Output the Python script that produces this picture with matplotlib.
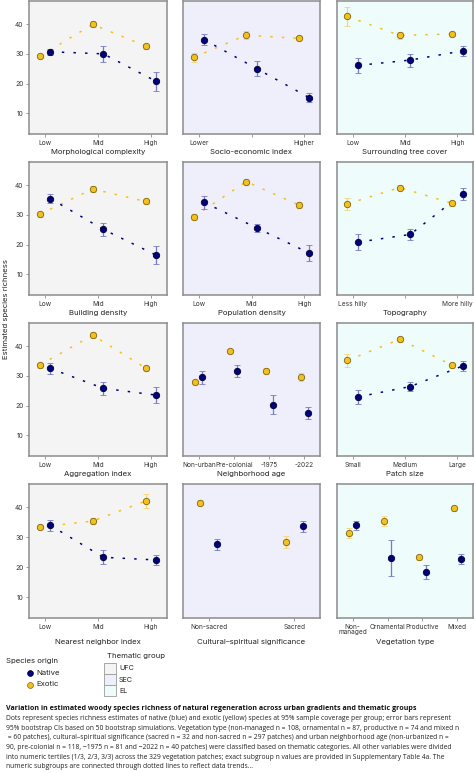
import numpy as np
import matplotlib.pyplot as plt
from matplotlib.patches import Rectangle

plt.rcParams['font.family'] = ['Inter', 'DejaVu Sans']

# ---- data ----
morph_cats = ["Low", "Mid", "High"]
morph_nat = [30.7, 30.0, 20.7]; morph_nat_ci = [1.0, 2.7, 3.2]
morph_exo = [29.2, 39.9, 32.6]; morph_exo_ci = [0.7, 1.0, 0.8]

socio_cats = ["Lower", "", "Higher"]
socio_nat = [34.8, 25.0, 15.2]; socio_nat_ci = [1.9, 2.6, 1.5]
socio_exo = [28.8, 36.3, 35.2]; socio_exo_ci = [1.4, 1.3, 0.7]

tree_cats = ["Low", "Mid", "High"]
tree_nat = [26.1, 27.9, 31.0]; tree_nat_ci = [2.5, 2.2, 1.7]
tree_exo = [42.6, 36.2, 36.7]; tree_exo_ci = [3.2, 1.2, 0.8]

build_cats = ["Low", "Mid", "High"]
build_nat = [35.5, 25.1, 16.4]; build_nat_ci = [1.6, 2.2, 3.1]
build_exo = [30.2, 38.7, 34.5]; build_exo_ci = [0.8, 0.9, 0.9]

pop_cats = ["Low", "Mid", "High"]
pop_nat = [34.2, 25.6, 17.1]; pop_nat_ci = [2.3, 1.3, 2.7]
pop_exo = [29.3, 41.2, 33.3]; pop_exo_ci = [1.0, 1.0, 1.0]

topo_cats = ["Less hilly", "", "More hilly"]
topo_nat = [20.8, 23.4, 37.1]; topo_nat_ci = [2.6, 1.8, 2.1]
topo_exo = [33.7, 39.2, 33.9]; topo_exo_ci = [1.9, 0.8, 0.8]

aggr_cats = ["Low", "Mid", "High"]
aggr_nat = [32.5, 25.8, 23.5]; aggr_nat_ci = [1.8, 2.2, 2.6]
aggr_exo = [33.6, 43.7, 32.6]; aggr_exo_ci = [0.8, 1.1, 0.8]

age_cats = ["Non-urban", "Pre-colonial", "-1975", "-2022"]
age_nat = [29.5, 31.6, 20.3, 17.5]; age_nat_ci = [2.1, 1.9, 3.2, 1.9]
age_exo = [27.9, 38.4, 31.6, 29.6]; age_exo_ci = [0.8, 0.7, 1.0, 1.2]

patch_cats = ["Small", "Medium", "Large"]
patch_nat = [22.9, 26.4, 33.3]; patch_nat_ci = [2.4, 1.6, 1.6]
patch_exo = [35.2, 42.3, 33.6]; patch_exo_ci = [2.2, 0.8, 0.8]

nn_cats = ["Low", "Mid", "High"]
nn_nat = [34.0, 23.3, 22.4]; nn_nat_ci = [1.8, 2.4, 1.8]
nn_exo = [33.4, 35.4, 42.1]; nn_exo_ci = [0.7, 0.9, 2.2]

cult_cats = ["Non-sacred", "Sacred"]
cult_nat = [27.6, 33.6]; cult_nat_ci = [1.7, 1.9]
cult_exo = [41.6, 28.4]; cult_exo_ci = [0.7, 2.1]

veg_cats = ["Non-\nmanaged", "Ornamental", "Productive", "Mixed"]
veg_nat = [34.0, 23.2, 18.4, 22.6]; veg_nat_ci = [1.5, 6.0, 2.2, 1.7]
veg_exo = [31.4, 35.4, 23.3, 39.7]; veg_exo_ci = [1.7, 1.8, 0.8, 0.8]

# title, categories, native, native ci, exotic, exotic ci, connect with lines
panels = [
    ("Morphological complexity", morph_cats, morph_nat, morph_nat_ci, morph_exo, morph_exo_ci, True),
    ("Socio-economic index", socio_cats, socio_nat, socio_nat_ci, socio_exo, socio_exo_ci, True),
    ("Surrounding tree cover", tree_cats, tree_nat, tree_nat_ci, tree_exo, tree_exo_ci, True),
    ("Building density", build_cats, build_nat, build_nat_ci, build_exo, build_exo_ci, True),
    ("Population density", pop_cats, pop_nat, pop_nat_ci, pop_exo, pop_exo_ci, True),
    ("Topography", topo_cats, topo_nat, topo_nat_ci, topo_exo, topo_exo_ci, True),
    ("Aggregation index", aggr_cats, aggr_nat, aggr_nat_ci, aggr_exo, aggr_exo_ci, True),
    ("Neighborhood age", age_cats, age_nat, age_nat_ci, age_exo, age_exo_ci, False),
    ("Patch size", patch_cats, patch_nat, patch_nat_ci, patch_exo, patch_exo_ci, True),
    ("Nearest neighbor index", nn_cats, nn_nat, nn_nat_ci, nn_exo, nn_exo_ci, True),
    ("Cultural\u2013spiritual significance", cult_cats, cult_nat, cult_nat_ci, cult_exo, cult_exo_ci, False),
    ("Vegetation type", veg_cats, veg_nat, veg_nat_ci, veg_exo, veg_exo_ci, False),
]

group_names = ["UFC", "SEC", "EL"]
group_colors = ["#f4f4f4", "#efeefb", "#eefcfc"]

NAT = "#00007a"; NAT_EDGE = "#000033"; NAT_ERR = "#7a7ac4"
EXO = "#f4c01c"; EXO_EDGE = "#7a6410"; EXO_ERR = "#f2d67a"
SPINE = "#8c8c8c"

W, H = 474, 773
fig = plt.figure(figsize=(W / 100, H / 100), dpi=100)

col_x = [(29, 167), (183, 320), (337, 473)]
row_y = [(1, 134), (162, 295), (323, 456), (484, 618)]

def px_axes(x0, x1, y0, y1):
    return fig.add_axes([x0 / W, 1 - y1 / H, (x1 - x0) / W, (y1 - y0) / H])

dots = (0, (1.6, 6.0))
for i, (title, cats, nat, nat_ci, exo, exo_ci, connect) in enumerate(panels):
    r, c = divmod(i, 3)
    ax = px_axes(col_x[c][0], col_x[c][1], row_y[r][0], row_y[r][1])
    ax.set_facecolor(group_colors[c])
    n = len(cats)
    x = np.arange(n)
    d = 0.1
    if connect:
        ax.plot(x - d, exo, linestyle=dots, color=EXO, lw=1.1, zorder=1)
        ax.plot(x + d, nat, linestyle=dots, color=NAT, lw=1.1, zorder=1)
    ax.errorbar(x - d, exo, yerr=exo_ci, fmt='o', ms=4.6, mfc=EXO, mec=EXO_EDGE, mew=0.6,
                ecolor=EXO_ERR, elinewidth=0.9, capsize=2.2, capthick=0.9, zorder=3)
    ax.errorbar(x + d, nat, yerr=nat_ci, fmt='o', ms=4.6, mfc=NAT, mec=NAT_EDGE, mew=0.6,
                ecolor=NAT_ERR, elinewidth=0.9, capsize=2.2, capthick=0.9, zorder=4)
    pad = {2: 0.3, 3: 0.3, 4: 0.45}[n]
    ax.set_xlim(-pad, n - 1 + pad)
    ax.set_ylim(3, 47.8)
    ax.set_xticks(x)
    ax.set_xticklabels(cats, fontsize=4.7, color="#333333", linespacing=0.95)
    ax.tick_params(axis='x', length=2, width=0.6, color=SPINE, pad=2)
    if c == 0:
        ax.set_yticks([10, 20, 30, 40])
        ax.tick_params(axis='y', labelsize=4.8, labelcolor="#333333", length=2, width=0.6,
                       color=SPINE, pad=2)
    else:
        ax.set_yticks([])
    for s in ax.spines.values():
        s.set_color(SPINE)
        s.set_linewidth(1.1)
    ax.set_xlabel(title, fontsize=5.6, color="#222222")
    ax.xaxis.set_label_coords(0.5, -0.115 if r < 3 else -0.16)

fig.text(6 / W, 1 - 309 / H, "Estimated species richness", rotation=90, fontsize=5.6,
         color="#222222", ha='center', va='center')

# legend + caption drawn in pixel space
lg = fig.add_axes([0, 0, 1, 1], zorder=-1)
lg.set_xlim(0, W); lg.set_ylim(H, 0); lg.axis('off')
lg.text(6, 661, "Species origin", fontsize=5.6, va='center', color="#222222")
lg.plot([30], [673], 'o', ms=4.2, mfc=NAT, mec=NAT_EDGE, mew=0.5)
lg.text(36, 673, "Native", fontsize=5.6, va='center', color="#222222")
lg.plot([30], [684.5], 'o', ms=4.2, mfc=EXO, mec=EXO_EDGE, mew=0.5)
lg.text(36, 684.5, "Exotic", fontsize=5.6, va='center', color="#222222")
lg.text(107, 656, "Thematic group", fontsize=5.6, va='center', color="#222222")
for k, (nm, col) in enumerate(zip(group_names, group_colors)):
    y0 = 663 + k * 11.2
    lg.add_patch(Rectangle((104, y0), 12, 10.5, facecolor=col, edgecolor="#9a9a9a", lw=0.6))
    lg.text(119, y0 + 5.3, nm, fontsize=5.2, va='center', color="#222222")

cap_title = ("Variation in estimated woody species richness of natural regeneration "
             "across urban gradients and thematic groups")
cap_lines = [
    "Dots represent species richness estimates of native (blue) and exotic (yellow) species at 95% sample coverage per group; error bars represent",
    "95% bootstrap CIs based on 50 bootstrap simulations. Vegetation type (non-managed n = 108, ornamental n = 87, productive n = 74 and mixed n",
    " = 60 patches), cultural\u2013spiritual significance (sacred n = 32 and non-sacred n = 297 patches) and urban neighborhood age (non-urbanized n =",
    "90, pre-colonial n = 118, \u22121975 n = 81 and \u22122022 n = 40 patches) were classified based on thematic categories. All other variables were divided",
    "into numeric tertiles (1/3, 2/3, 3/3) across the 329 vegetation patches; exact subgroup n values are provided in Supplementary Table 4a. The",
    "numeric subgroups are connected through dotted lines to reflect data trends...",
]
lg.text(6, 708, cap_title, fontsize=5.1, fontweight='bold', va='center', color="#111111",
        family=['Open Sans', 'DejaVu Sans'])
for j, line in enumerate(cap_lines):
    lg.text(6, 718.5 + j * 9.7, line, fontsize=4.85, va='center', color="#222222",
            family=['Open Sans', 'DejaVu Sans'])

fig.savefig("out.png", dpi=100)
